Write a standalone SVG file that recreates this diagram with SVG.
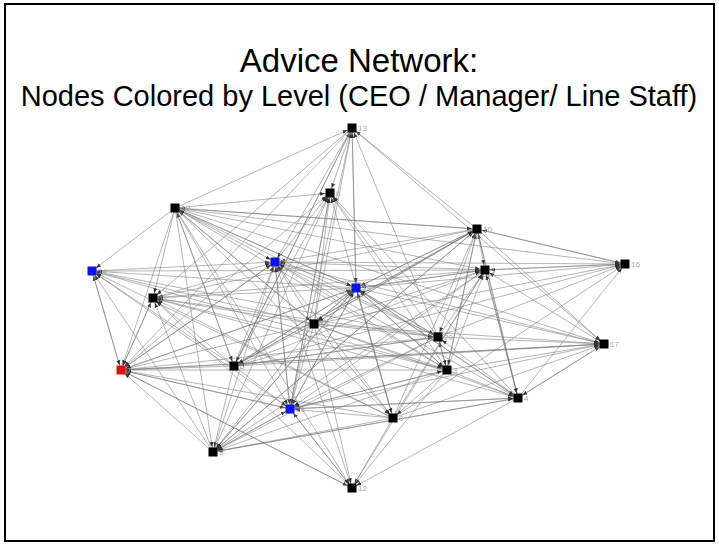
<svg xmlns="http://www.w3.org/2000/svg" width="719" height="546" viewBox="0 0 719 546">
<defs>
<marker id="a" viewBox="0 0 5 5" refX="10" refY="2.5" markerWidth="5" markerHeight="5" markerUnits="userSpaceOnUse" orient="auto"><path d="M0,0.6 L5,2.5 L0,4.4z" fill="#333"/></marker>
<style>
.t{font-family:"Liberation Sans",Arial,sans-serif;fill:#000}
#edges line{stroke:#7c7c7c;stroke-width:0.8;stroke-opacity:0.7;marker-end:url(#a)}
.n rect{stroke:none}
.k{fill:#000}.b{fill:#0a14e6}.r{fill:#e01010}
.l{font-family:"Liberation Sans",Arial,sans-serif;font-size:8px;fill:#a8a8a8}
</style>
</defs>
<rect x="0" y="0" width="719" height="546" fill="#fff"/>
<rect x="5" y="4" width="709" height="537" fill="none" stroke="#000" stroke-width="2"/>
<text class="t" x="359" y="72" font-size="33" text-anchor="middle">Advice Network:</text>
<text class="t" x="359" y="106" font-size="29" text-anchor="middle">Nodes Colored by Level (CEO / Manager/ Line Staff)</text>
<g id="edges">
<line x1="485" y1="270" x2="275" y2="262"/><line x1="485" y1="270" x2="518" y2="398"/><line x1="485" y1="270" x2="213" y2="452"/><line x1="485" y1="270" x2="625" y2="264"/><line x1="485" y1="270" x2="356" y2="288"/><line x1="485" y1="270" x2="290" y2="409"/>
<line x1="275" y1="262" x2="330" y2="193"/><line x1="275" y1="262" x2="121" y2="370"/><line x1="275" y1="262" x2="290" y2="409"/>
<line x1="447" y1="370" x2="485" y2="270"/><line x1="447" y1="370" x2="275" y2="262"/><line x1="447" y1="370" x2="518" y2="398"/><line x1="447" y1="370" x2="330" y2="193"/><line x1="447" y1="370" x2="121" y2="370"/><line x1="447" y1="370" x2="213" y2="452"/><line x1="447" y1="370" x2="393" y2="418"/><line x1="447" y1="370" x2="477" y2="229"/><line x1="447" y1="370" x2="153" y2="298"/><line x1="447" y1="370" x2="352" y2="488"/><line x1="447" y1="370" x2="92" y2="271"/><line x1="447" y1="370" x2="604" y2="344"/><line x1="447" y1="370" x2="356" y2="288"/><line x1="447" y1="370" x2="438" y2="337"/><line x1="447" y1="370" x2="290" y2="409"/>
<line x1="518" y1="398" x2="485" y2="270"/><line x1="518" y1="398" x2="275" y2="262"/><line x1="518" y1="398" x2="330" y2="193"/><line x1="518" y1="398" x2="213" y2="452"/><line x1="518" y1="398" x2="477" y2="229"/><line x1="518" y1="398" x2="153" y2="298"/><line x1="518" y1="398" x2="352" y2="488"/><line x1="518" y1="398" x2="625" y2="264"/><line x1="518" y1="398" x2="604" y2="344"/><line x1="518" y1="398" x2="356" y2="288"/><line x1="518" y1="398" x2="438" y2="337"/><line x1="518" y1="398" x2="290" y2="409"/>
<line x1="234" y1="366" x2="485" y2="270"/><line x1="234" y1="366" x2="275" y2="262"/><line x1="234" y1="366" x2="330" y2="193"/><line x1="234" y1="366" x2="121" y2="370"/><line x1="234" y1="366" x2="213" y2="452"/><line x1="234" y1="366" x2="477" y2="229"/><line x1="234" y1="366" x2="153" y2="298"/><line x1="234" y1="366" x2="352" y2="128"/><line x1="234" y1="366" x2="92" y2="271"/><line x1="234" y1="366" x2="625" y2="264"/><line x1="234" y1="366" x2="604" y2="344"/><line x1="234" y1="366" x2="356" y2="288"/><line x1="234" y1="366" x2="175" y2="208"/><line x1="234" y1="366" x2="438" y2="337"/><line x1="234" y1="366" x2="290" y2="409"/>
<line x1="330" y1="193" x2="290" y2="409"/>
<line x1="121" y1="370" x2="275" y2="262"/><line x1="121" y1="370" x2="330" y2="193"/><line x1="121" y1="370" x2="153" y2="298"/><line x1="121" y1="370" x2="352" y2="488"/><line x1="121" y1="370" x2="92" y2="271"/><line x1="121" y1="370" x2="604" y2="344"/><line x1="121" y1="370" x2="356" y2="288"/><line x1="121" y1="370" x2="290" y2="409"/>
<line x1="213" y1="452" x2="275" y2="262"/><line x1="213" y1="452" x2="518" y2="398"/><line x1="213" y1="452" x2="330" y2="193"/><line x1="213" y1="452" x2="121" y2="370"/><line x1="213" y1="452" x2="477" y2="229"/><line x1="213" y1="452" x2="153" y2="298"/><line x1="213" y1="452" x2="92" y2="271"/><line x1="213" y1="452" x2="356" y2="288"/><line x1="213" y1="452" x2="290" y2="409"/>
<line x1="393" y1="418" x2="485" y2="270"/><line x1="393" y1="418" x2="275" y2="262"/><line x1="393" y1="418" x2="330" y2="193"/><line x1="393" y1="418" x2="121" y2="370"/><line x1="393" y1="418" x2="213" y2="452"/><line x1="393" y1="418" x2="477" y2="229"/><line x1="393" y1="418" x2="153" y2="298"/><line x1="393" y1="418" x2="352" y2="488"/><line x1="393" y1="418" x2="92" y2="271"/><line x1="393" y1="418" x2="625" y2="264"/><line x1="393" y1="418" x2="604" y2="344"/><line x1="393" y1="418" x2="356" y2="288"/><line x1="393" y1="418" x2="290" y2="409"/>
<line x1="477" y1="229" x2="485" y2="270"/><line x1="477" y1="229" x2="275" y2="262"/><line x1="477" y1="229" x2="447" y2="370"/><line x1="477" y1="229" x2="518" y2="398"/><line x1="477" y1="229" x2="234" y2="366"/><line x1="477" y1="229" x2="213" y2="452"/><line x1="477" y1="229" x2="153" y2="298"/><line x1="477" y1="229" x2="352" y2="128"/><line x1="477" y1="229" x2="314" y2="324"/><line x1="477" y1="229" x2="625" y2="264"/><line x1="477" y1="229" x2="604" y2="344"/><line x1="477" y1="229" x2="356" y2="288"/><line x1="477" y1="229" x2="175" y2="208"/><line x1="477" y1="229" x2="438" y2="337"/>
<line x1="153" y1="298" x2="485" y2="270"/><line x1="153" y1="298" x2="275" y2="262"/><line x1="153" y1="298" x2="121" y2="370"/>
<line x1="352" y1="488" x2="485" y2="270"/><line x1="352" y1="488" x2="275" y2="262"/><line x1="352" y1="488" x2="121" y2="370"/><line x1="352" y1="488" x2="153" y2="298"/><line x1="352" y1="488" x2="290" y2="409"/>
<line x1="352" y1="128" x2="275" y2="262"/><line x1="352" y1="128" x2="234" y2="366"/><line x1="352" y1="128" x2="330" y2="193"/><line x1="352" y1="128" x2="121" y2="370"/><line x1="352" y1="128" x2="153" y2="298"/><line x1="352" y1="128" x2="604" y2="344"/><line x1="352" y1="128" x2="356" y2="288"/><line x1="352" y1="128" x2="290" y2="409"/>
<line x1="92" y1="271" x2="485" y2="270"/><line x1="92" y1="271" x2="275" y2="262"/><line x1="92" y1="271" x2="121" y2="370"/>
<line x1="314" y1="324" x2="485" y2="270"/><line x1="314" y1="324" x2="275" y2="262"/><line x1="314" y1="324" x2="447" y2="370"/><line x1="314" y1="324" x2="518" y2="398"/><line x1="314" y1="324" x2="234" y2="366"/><line x1="314" y1="324" x2="330" y2="193"/><line x1="314" y1="324" x2="121" y2="370"/><line x1="314" y1="324" x2="213" y2="452"/><line x1="314" y1="324" x2="393" y2="418"/><line x1="314" y1="324" x2="477" y2="229"/><line x1="314" y1="324" x2="153" y2="298"/><line x1="314" y1="324" x2="352" y2="488"/><line x1="314" y1="324" x2="352" y2="128"/><line x1="314" y1="324" x2="92" y2="271"/><line x1="314" y1="324" x2="625" y2="264"/><line x1="314" y1="324" x2="604" y2="344"/><line x1="314" y1="324" x2="356" y2="288"/><line x1="314" y1="324" x2="175" y2="208"/><line x1="314" y1="324" x2="438" y2="337"/><line x1="314" y1="324" x2="290" y2="409"/>
<line x1="625" y1="264" x2="485" y2="270"/><line x1="625" y1="264" x2="275" y2="262"/><line x1="625" y1="264" x2="477" y2="229"/>
<line x1="604" y1="344" x2="485" y2="270"/><line x1="604" y1="344" x2="275" y2="262"/><line x1="604" y1="344" x2="518" y2="398"/><line x1="604" y1="344" x2="121" y2="370"/>
<line x1="356" y1="288" x2="485" y2="270"/><line x1="356" y1="288" x2="275" y2="262"/><line x1="356" y1="288" x2="447" y2="370"/><line x1="356" y1="288" x2="518" y2="398"/><line x1="356" y1="288" x2="234" y2="366"/><line x1="356" y1="288" x2="121" y2="370"/><line x1="356" y1="288" x2="213" y2="452"/><line x1="356" y1="288" x2="393" y2="418"/><line x1="356" y1="288" x2="477" y2="229"/><line x1="356" y1="288" x2="153" y2="298"/><line x1="356" y1="288" x2="352" y2="128"/><line x1="356" y1="288" x2="92" y2="271"/><line x1="356" y1="288" x2="314" y2="324"/><line x1="356" y1="288" x2="625" y2="264"/><line x1="356" y1="288" x2="604" y2="344"/><line x1="356" y1="288" x2="175" y2="208"/><line x1="356" y1="288" x2="438" y2="337"/><line x1="356" y1="288" x2="290" y2="409"/>
<line x1="175" y1="208" x2="485" y2="270"/><line x1="175" y1="208" x2="275" y2="262"/><line x1="175" y1="208" x2="447" y2="370"/><line x1="175" y1="208" x2="234" y2="366"/><line x1="175" y1="208" x2="330" y2="193"/><line x1="175" y1="208" x2="121" y2="370"/><line x1="175" y1="208" x2="213" y2="452"/><line x1="175" y1="208" x2="393" y2="418"/><line x1="175" y1="208" x2="477" y2="229"/><line x1="175" y1="208" x2="153" y2="298"/><line x1="175" y1="208" x2="352" y2="488"/><line x1="175" y1="208" x2="352" y2="128"/><line x1="175" y1="208" x2="92" y2="271"/><line x1="175" y1="208" x2="314" y2="324"/><line x1="175" y1="208" x2="625" y2="264"/><line x1="175" y1="208" x2="604" y2="344"/><line x1="175" y1="208" x2="356" y2="288"/><line x1="175" y1="208" x2="290" y2="409"/>
<line x1="438" y1="337" x2="485" y2="270"/><line x1="438" y1="337" x2="275" y2="262"/><line x1="438" y1="337" x2="447" y2="370"/><line x1="438" y1="337" x2="234" y2="366"/><line x1="438" y1="337" x2="330" y2="193"/><line x1="438" y1="337" x2="121" y2="370"/><line x1="438" y1="337" x2="213" y2="452"/><line x1="438" y1="337" x2="153" y2="298"/><line x1="438" y1="337" x2="352" y2="128"/><line x1="438" y1="337" x2="92" y2="271"/><line x1="438" y1="337" x2="625" y2="264"/><line x1="438" y1="337" x2="604" y2="344"/><line x1="438" y1="337" x2="356" y2="288"/><line x1="438" y1="337" x2="175" y2="208"/><line x1="438" y1="337" x2="290" y2="409"/>
<line x1="290" y1="409" x2="275" y2="262"/><line x1="290" y1="409" x2="447" y2="370"/><line x1="290" y1="409" x2="518" y2="398"/><line x1="290" y1="409" x2="330" y2="193"/><line x1="290" y1="409" x2="121" y2="370"/><line x1="290" y1="409" x2="213" y2="452"/><line x1="290" y1="409" x2="352" y2="488"/><line x1="290" y1="409" x2="92" y2="271"/><line x1="290" y1="409" x2="604" y2="344"/><line x1="290" y1="409" x2="356" y2="288"/>
</g>
<g id="node-13" class="n"><rect class="k" x="347.5" y="123.5" width="9" height="9"/><text class="l" x="358" y="131">13</text></g>
<g id="node-19" class="n"><rect class="k" x="170.5" y="203.5" width="9" height="9"/><text class="l" x="181" y="211">19</text></g>
<g id="node-6" class="n"><rect class="k" x="325.5" y="188.5" width="9" height="9"/><text class="l" x="336" y="196">6</text></g>
<g id="node-10" class="n"><rect class="k" x="472.5" y="224.5" width="9" height="9"/><text class="l" x="483" y="232">10</text></g>
<g id="node-16" class="n"><rect class="k" x="620.5" y="259.5" width="9" height="9"/><text class="l" x="631" y="267">16</text></g>
<g id="node-14" class="n"><rect class="b" x="87.5" y="266.5" width="9" height="9"/><text class="l" x="98" y="274">14</text></g>
<g id="node-2" class="n"><rect class="b" x="270.5" y="257.5" width="9" height="9"/><text class="l" x="281" y="265">2</text></g>
<g id="node-1" class="n"><rect class="k" x="480.5" y="265.5" width="9" height="9"/><text class="l" x="491" y="273">1</text></g>
<g id="node-18" class="n"><rect class="b" x="351.5" y="283.5" width="9" height="9"/><text class="l" x="362" y="291">18</text></g>
<g id="node-11" class="n"><rect class="k" x="148.5" y="293.5" width="9" height="9"/><text class="l" x="159" y="301">11</text></g>
<g id="node-15" class="n"><rect class="k" x="309.5" y="319.5" width="9" height="9"/><text class="l" x="320" y="327">15</text></g>
<g id="node-20" class="n"><rect class="k" x="433.5" y="332.5" width="9" height="9"/><text class="l" x="444" y="340">20</text></g>
<g id="node-17" class="n"><rect class="k" x="599.5" y="339.5" width="9" height="9"/><text class="l" x="610" y="347">17</text></g>
<g id="node-7" class="n"><rect class="r" x="116.5" y="365.5" width="9" height="9"/><text class="l" x="127" y="373">7</text></g>
<g id="node-5" class="n"><rect class="k" x="229.5" y="361.5" width="9" height="9"/><text class="l" x="240" y="369">5</text></g>
<g id="node-3" class="n"><rect class="k" x="442.5" y="365.5" width="9" height="9"/><text class="l" x="453" y="373">3</text></g>
<g id="node-4" class="n"><rect class="k" x="513.5" y="393.5" width="9" height="9"/><text class="l" x="524" y="401">4</text></g>
<g id="node-21" class="n"><rect class="b" x="285.5" y="404.5" width="9" height="9"/><text class="l" x="296" y="412">21</text></g>
<g id="node-9" class="n"><rect class="k" x="388.5" y="413.5" width="9" height="9"/><text class="l" x="399" y="421">9</text></g>
<g id="node-8" class="n"><rect class="k" x="208.5" y="447.5" width="9" height="9"/><text class="l" x="219" y="455">8</text></g>
<g id="node-12" class="n"><rect class="k" x="347.5" y="483.5" width="9" height="9"/><text class="l" x="358" y="491">12</text></g>
</svg>
